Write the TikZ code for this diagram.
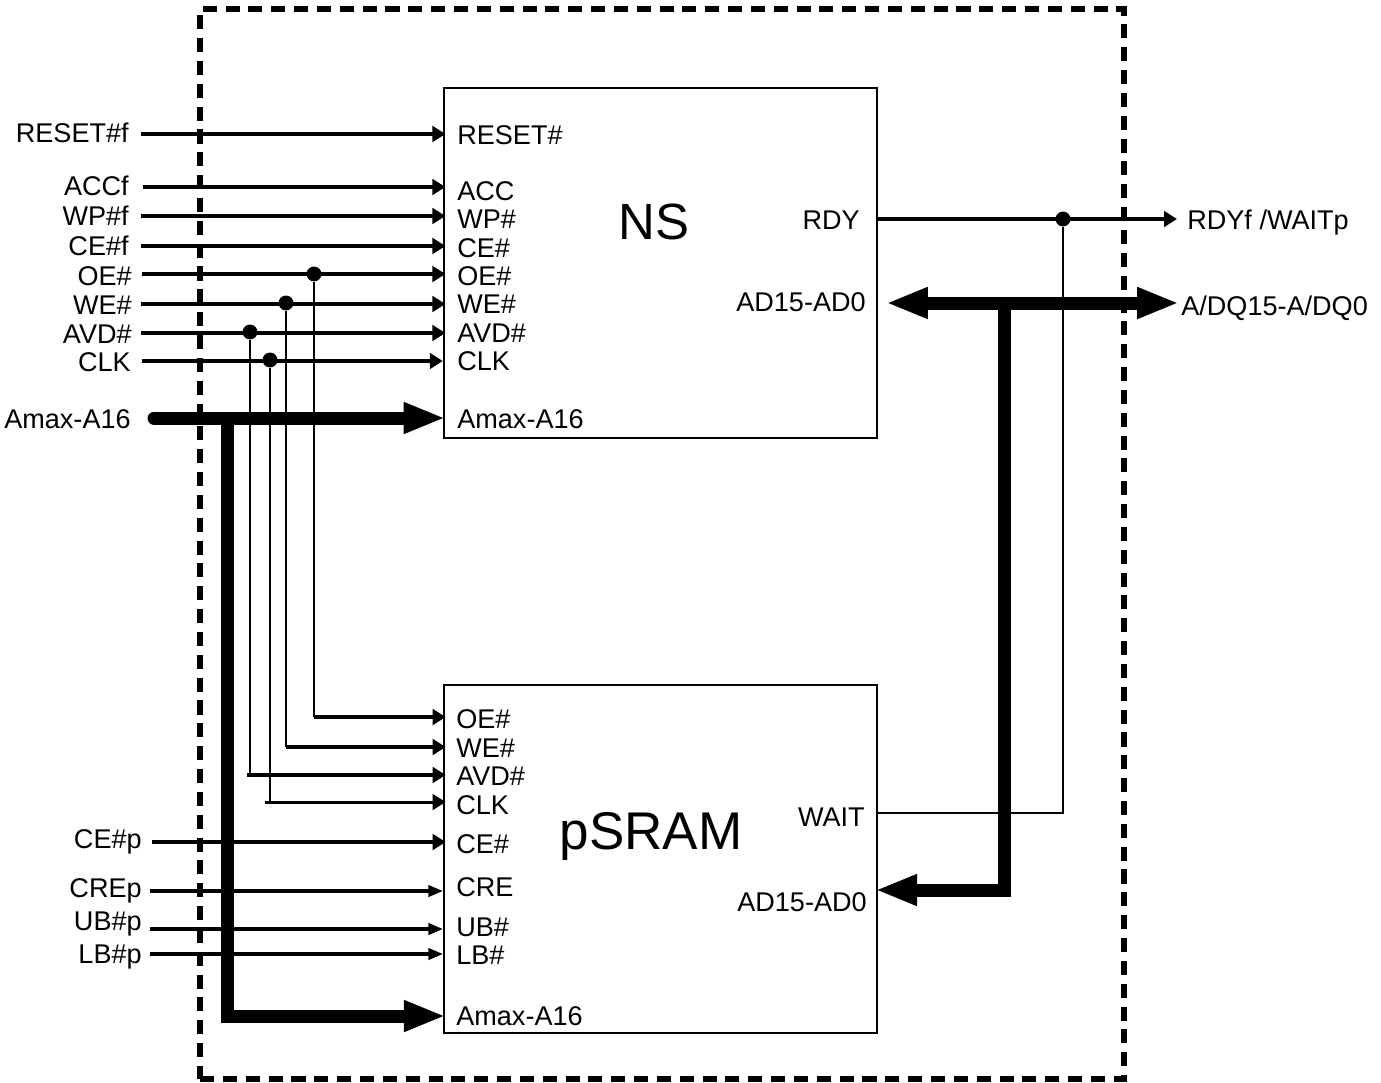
\documentclass[tikz,border=0pt]{standalone}
\usepackage{fontspec}
\setmainfont{Liberation Sans}
\usetikzlibrary{arrows.meta}
\tikzset{
  chip/.style={draw,line width=1.4pt,minimum width=8.66cm,inner sep=0pt},
  pinl/.style={anchor=base west,inner sep=0pt,font=\fontsize{15.4}{18}\selectfont},
  pinr/.style={anchor=base east,inner sep=0pt,font=\fontsize{15.4}{18}\selectfont},
  title/.style={inner sep=0pt,font=\fontsize{29}{34}\selectfont},
  junction/.style={circle,fill=black,inner sep=0pt,minimum size=8.5pt},
  sigline/.style={line width=2pt,shorten >=-1.5pt,-{Triangle[length=7.4pt,width=8.8pt]}},
  lowline/.style={line width=1.9pt,-{Triangle[length=8.4pt,width=6.4pt]}},
  tapline/.style={line width=1.1pt},
  busline/.style={line width=7.4pt,shorten >=-1.5pt,-{Triangle[length=23.8pt,width=16.4pt]}},
}
\begin{document}
\begin{tikzpicture}[x=0.02cm,y=-0.02cm]
\useasboundingbox (0,0) rectangle (1381,1082);
\node[draw,line width=3pt,dash pattern=on 8pt off 5pt,minimum width=18.48cm,minimum height=21.4cm,inner sep=0pt] (module) at (662,544) {};
\node[chip,minimum height=7cm] (ns) at (660.5,263) {};
\node[chip,minimum height=6.96cm,line width=1.1pt] (psram) at (660.5,859) {};
\node[title] (nstitle) at (654,222) {NS};
\node[title,font=\fontsize{30.2}{34}\selectfont] (psramtitle) at (651,836) {pSRAM};

% pins of the upper chip
\node[pinl] (nsreset) at (457,144) {RESET\#};
\node[pinl] (nsacc) at (457,200) {ACC};
\node[pinl] (nswp) at (457,228) {WP\#};
\node[pinl] (nsce) at (457,257) {CE\#};
\node[pinl] (nsoe) at (457,285) {OE\#};
\node[pinl] (nswe) at (457,313) {WE\#};
\node[pinl] (nsavd) at (457,342) {AVD\#};
\node[pinl] (nsclk) at (457,370) {CLK};
\node[pinl] (nsaddr) at (457,428) {Amax-A16};
\node[pinr] (nsrdy) at (860,229) {RDY};
\node[pinr] (nsdata) at (866,311) {AD15-AD0};

% pins of the lower chip
\node[pinl] (psoe) at (456,728) {OE\#};
\node[pinl] (pswe) at (456,757) {WE\#};
\node[pinl] (psavd) at (456,785) {AVD\#};
\node[pinl] (psclk) at (456,814) {CLK};
\node[pinl] (psce) at (456,853) {CE\#};
\node[pinl] (pscre) at (456,896) {CRE};
\node[pinl] (psub) at (456,936) {UB\#};
\node[pinl] (pslb) at (456,964) {LB\#};
\node[pinl] (psaddr) at (456,1025) {Amax-A16};
\node[pinr] (pswait) at (865,826) {WAIT};
\node[pinr] (psdata) at (867,911) {AD15-AD0};

% outside labels
\node[pinr] (resetf) at (129,142) {RESET\#f};
\node[pinr] (accf) at (129,195) {ACCf};
\node[pinr] (wpf) at (129,225) {WP\#f};
\node[pinr] (cef) at (129,255) {CE\#f};
\node[pinr] (oe) at (132,285) {OE\#};
\node[pinr] (we) at (132,314) {WE\#};
\node[pinr] (avd) at (132,343) {AVD\#};
\node[pinr] (clk) at (131,371) {CLK};
\node[pinr] (addr) at (131,428) {Amax-A16};
\node[pinr] (cep) at (142,848) {CE\#p};
\node[pinr] (crep) at (142,897) {CREp};
\node[pinr] (ubp) at (142,930) {UB\#p};
\node[pinr] (lbp) at (142,963) {LB\#p};
\node[pinl] (rdyout) at (1187,229) {RDYf /WAITp};
\node[pinl] (dataout) at (1181,315) {A/DQ15-A/DQ0};

% free ends
\coordinate (resetin) at (141,134);
\coordinate (accin) at (143,187);
\coordinate (wpin) at (141,216);
\coordinate (cein) at (141,246);
\coordinate (oein) at (142,274);
\coordinate (wein) at (141,304);
\coordinate (avdin) at (141,333);
\coordinate (clkin) at (142,361);
\coordinate (addrin) at (154,418);
\coordinate (cepin) at (152,842);
\coordinate (crepin) at (150,891);
\coordinate (ubpin) at (150,929);
\coordinate (lbpin) at (150,954);

\draw[sigline] (resetin) -- (ns.west |- resetin);
\draw[sigline] (accin) -- (ns.west |- accin);
\draw[sigline] (wpin) -- (ns.west |- wpin);
\draw[sigline] (cein) -- (ns.west |- cein);
\draw[sigline] (oein) -- (ns.west |- oein);
\draw[sigline] (wein) -- (ns.west |- wein);
\draw[sigline] (avdin) -- (ns.west |- avdin);
\draw[sigline,shorten >=0pt] (clkin) -- (ns.west |- clkin);
\draw[sigline] (cepin) -- (psram.west |- cepin);
\draw[lowline] (crepin) -- (psram.west |- crepin);
\draw[lowline] (ubpin) -- (psram.west |- ubpin);
\draw[lowline] (lbpin) -- (psram.west |- lbpin);

% taps to the lower chip
\node[junction] (oedot) at (314,274) {};
\node[junction] (wedot) at (286,303) {};
\node[junction] (avddot) at (250,332) {};
\node[junction] (clkdot) at (270,360) {};
\coordinate (oeturn) at (314,717);
\coordinate (weturn) at (286,747);
\coordinate (avdturn) at (250,775);
\coordinate (clkturn) at (270,802);
\coordinate (avdleft) at (247,775);
\coordinate (clkleft) at (265,802);
\draw[tapline] (oedot) -- (oeturn);
\draw[tapline] (wedot) -- (weturn);
\draw[tapline] (avddot) -- (avdturn);
\draw[tapline] (clkdot) -- (clkturn);
\draw[sigline] (oeturn) -- (psram.west |- oeturn);
\draw[sigline] (weturn) -- (psram.west |- weturn);
\draw[sigline] (avdleft) -- (psram.west |- avdleft);
\draw[sigline,line width=1.7pt] (clkleft) -- (psram.west |- clkleft);

% address bus
\coordinate (addrtee) at (227.5,418);
\coordinate (addrturn) at (227.5,1016);
\draw[busline,line cap=round] (addrin) -- (ns.west |- addrin);
\draw[busline] (addrtee) -- (addrturn) -- (psram.west |- addrturn);

% data bus
\coordinate (datatee) at (1004,303);
\coordinate (dataturn) at (1004,890);
\coordinate (dataleft) at (886,303);
\coordinate (dataright) at (1179,303);
\draw[busline,shorten >=0pt,{Triangle[length=23.8pt,width=16.4pt]}-{Triangle[length=23.8pt,width=16.4pt]}] (dataleft) -- (dataright);
\draw[busline] (datatee) -- (dataturn) -- (psram.east |- dataturn);

% ready and wait
\node[junction] (rdydot) at (1063,219) {};
\coordinate (rdyend) at (1177,219);
\coordinate (waitturn) at (1063,813);
\draw[sigline,shorten >=0pt] (ns.east |- rdyend) -- (rdyend);
\draw[tapline] (psram.east |- waitturn) -- (waitturn) -- (rdydot);
\end{tikzpicture}
\end{document}
